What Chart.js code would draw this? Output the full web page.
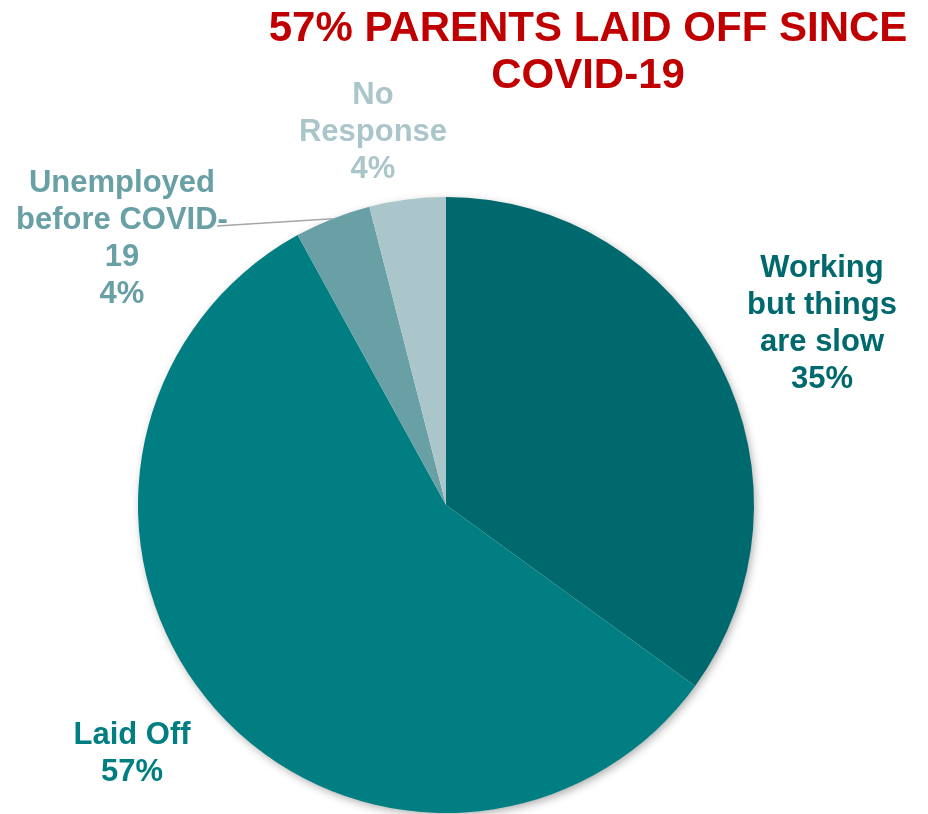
<!DOCTYPE html>
<html>
<head>
<meta charset="utf-8">
<title>Parents laid off since COVID-19</title>
<script src="https://cdn.jsdelivr.net/npm/chart.js@4/dist/chart.umd.min.js"></script>
<style>
  html, body { margin: 0; padding: 0; background: #fff; }
  #wrap { width: 928px; height: 814px; position: relative; }
</style>
</head>
<body>
<div id="wrap"><canvas id="pie"></canvas></div>
<script>
// Antworten der Eltern zur Beschäftigung
const categories = ['Working but things are slow', 'Laid Off', 'Unemployed before COVID-19', 'No Response'];
const shares = [35, 57, 4, 4];
const sliceColors = ['#00696D', '#007E81', '#68A0A5', '#ABC6CA'];

// Zeilenumbruch der Beschriftungen wie im Bericht
const labelLines = [
  ['Working', 'but things', 'are slow'],
  ['Laid Off'],
  ['Unemployed', 'before COVID-', '19'],
  ['No', 'Response']
];
// Mittelpunkt der ersten Zeile jeder Beschriftung
const labelPos = [
  { x: 822, y: 268 },
  { x: 132, y: 735 },
  { x: 122, y: 183 },
  { x: 373, y: 95 }
];
const titleLines = ['57% PARENTS LAID OFF SINCE', 'COVID-19'];

const FONT = '"Liberation Sans", Arial, sans-serif';

// Schatten unter dem Kreis
const pieShadow = {
  id: 'pieShadow',
  beforeDatasetsDraw(chart) {
    const arc = chart.getDatasetMeta(0).data[0];
    if (!arc) return;
    const ctx = chart.ctx;
    ctx.save();
    ctx.shadowColor = 'rgba(0,0,0,0.35)';
    ctx.shadowBlur = 10;
    ctx.shadowOffsetX = 2;
    ctx.shadowOffsetY = 3;
    ctx.fillStyle = '#fff';
    ctx.beginPath();
    ctx.arc(arc.x, arc.y, arc.outerRadius - 1, 0, Math.PI * 2);
    ctx.fill();
    ctx.restore();
  }
};

// Titel, Beschriftungen und Führungslinie
const pieLabels = {
  id: 'pieLabels',
  afterDraw(chart) {
    const ctx = chart.ctx;
    const meta = chart.getDatasetMeta(0);
    ctx.save();
    ctx.textAlign = 'center';
    ctx.textBaseline = 'middle';

    ctx.fillStyle = '#C00000';
    ctx.font = 'bold 42px ' + FONT;
    titleLines.forEach((t, i) => ctx.fillText(t, 588, 29 + i * 47));

    // Führungslinie zum kleinen Segment
    const arc = meta.data[2];
    const mid = (arc.startAngle + arc.endAngle) / 2;
    ctx.strokeStyle = '#A6A6A6';
    ctx.lineWidth = 1.5;
    ctx.beginPath();
    ctx.moveTo(217, 226);
    ctx.lineTo(arc.x + arc.outerRadius * Math.cos(mid), arc.y + arc.outerRadius * Math.sin(mid));
    ctx.stroke();

    ctx.font = 'bold 31px ' + FONT;
    categories.forEach((c, i) => {
      const lines = labelLines[i].concat([shares[i] + '%']);
      ctx.fillStyle = sliceColors[i];
      lines.forEach((t, j) => ctx.fillText(t, labelPos[i].x, labelPos[i].y + j * 37));
    });
    ctx.restore();
  }
};

new Chart(document.getElementById('pie'), {
  type: 'pie',
  data: {
    labels: categories,
    datasets: [{
      data: shares,
      backgroundColor: sliceColors,
      borderWidth: 0
    }]
  },
  options: {
    responsive: true,
    maintainAspectRatio: false,
    animation: false,
    layout: { padding: { left: 138, right: 174, top: 197, bottom: 1 } },
    plugins: {
      legend: { display: false },
      tooltip: { enabled: false }
    }
  },
  plugins: [pieShadow, pieLabels]
});
</script>
</body>
</html>
